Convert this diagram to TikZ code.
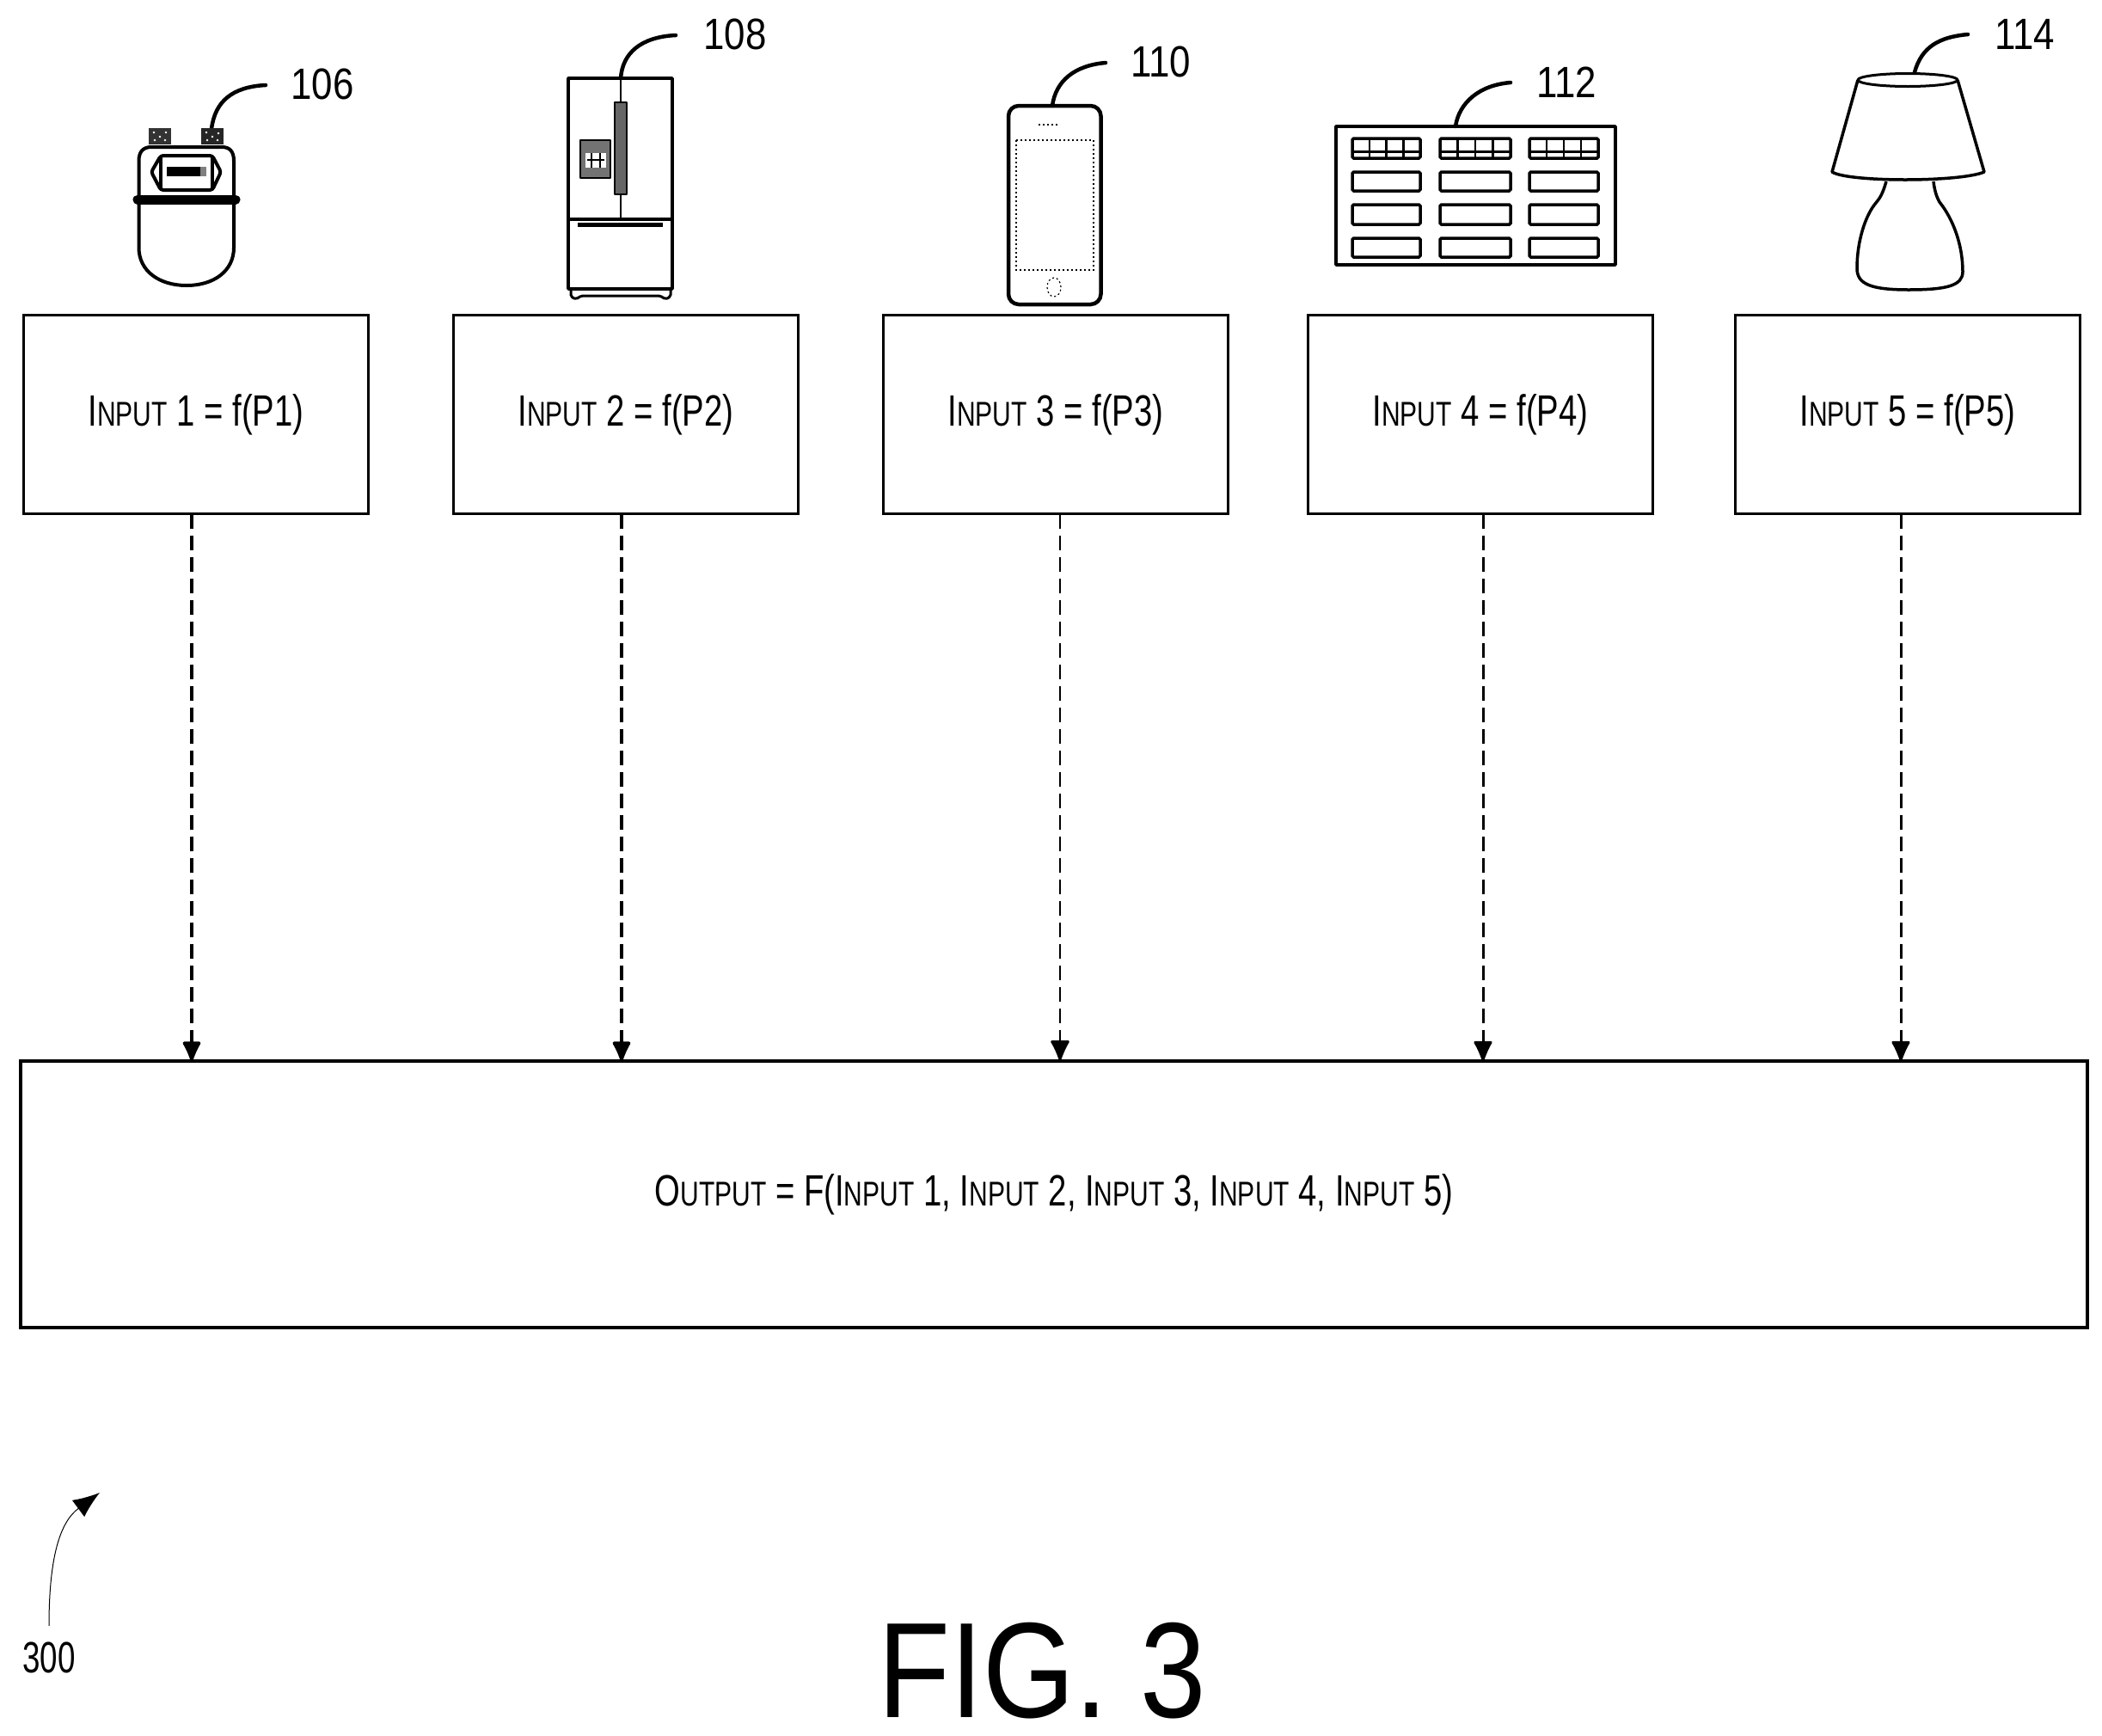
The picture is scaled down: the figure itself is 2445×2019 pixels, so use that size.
\documentclass[tikz,border=0pt]{standalone}
\usepackage{fontspec}
\usetikzlibrary{arrows.meta}
\setmainfont{Liberation Sans}
\newfontfamily\fnA[FakeStretch=0.75]{Liberation Sans}
\newfontfamily\fnB[FakeStretch=0.86]{Liberation Sans}
\newfontfamily\fnC[FakeStretch=0.72]{Liberation Sans}
\newfontfamily\fnD[FakeStretch=0.87]{Liberation Sans}
\newcommand\BigT{\fontsize{51}{56}\selectfont}
\newcommand\SmT{\fontsize{40}{44}\selectfont}
\newcommand\Inp{{\BigT I}{\SmT NPUT}}
\newcommand\Outp{{\BigT O}{\SmT UTPUT}}
\tikzset{
  inbox/.style={draw,line width=3.5pt,minimum width=401pt,minimum height=231pt,inner sep=0pt,outer sep=0pt,font=\fnA\BigT},
  outbox/.style={draw,line width=3.5pt,minimum width=2404pt,minimum height=310pt,inner sep=0pt,outer sep=0pt,font=\fnA\BigT},
  reflabel/.style={inner sep=0pt,outer sep=0pt,font=\fnB\BigT},
  leader/.style={line width=4.5pt,line cap=round},
  dasharrow/.style={line width=3.5pt,dash pattern=on 17pt off 8pt,-{Latex[length=27pt,width=24pt,round=false]}},
  iconline/.style={line width=3.5pt,line join=round},
  thinline/.style={line width=2pt,line join=round},
  keycell/.style={line width=3.5pt,rounded corners=1.5pt},
  dotline/.style={line width=1.5pt,dash pattern=on 2pt off 3pt}
}
\begin{document}
\begin{tikzpicture}[x=1pt,y=-1pt]
\useasboundingbox (0,0) rectangle (2445,2019);
% input boxes
\node[inbox] (b1) at (228,482) {\Inp{} 1 = f(P1)};
\node[inbox] (b2) at (728,482) {\Inp{} 2 = f(P2)};
\node[inbox] (b3) at (1228,482) {\Inp{} 3 = f(P3)};
\node[inbox] (b4) at (1722,482) {\Inp{} 4 = f(P4)};
\node[inbox] (b5) at (2219,482) {\Inp{} 5 = f(P5)};
\node[outbox] (out) at (1226,1389) {\Outp{} = F(\Inp{} 1, \Inp{} 2, \Inp{} 3, \Inp{} 4, \Inp{} 5)};
% connectors
\coordinate (a1) at (223,700);
\coordinate (a2) at (723,700);
\coordinate (a3) at (1233,700);
\coordinate (a4) at (1725,700);
\coordinate (a5) at (2211,700);
\draw[dasharrow] (b1.south -| a1) -- (out.north -| a1);
\draw[dasharrow] (b2.south -| a2) -- (out.north -| a2);
\draw[dasharrow,line width=2.5pt] (b3.south -| a3) -- (out.north -| a3);
\draw[dasharrow,line width=3pt] (b4.south -| a4) -- (out.north -| a4);
\draw[dasharrow,line width=3pt] (b5.south -| a5) -- (out.north -| a5);
% reference labels
\node[reflabel] (n106) at (375,98) {106};
\node[reflabel] (n108) at (855,40) {108};
\node[reflabel] (n110) at (1350,72) {110};
\node[reflabel] (n112) at (1822,96) {112};
\node[reflabel] (n114) at (2355,40) {114};
\node[inner sep=0pt,font=\fnC\BigT] (n300) at (57,1928) {300};
\node[inner sep=0pt,font=\fnD\fontsize{158}{170}\selectfont] (fig) at (1212,1943) {FIG. 3};
% leaders
\draw[leader] (309,99) .. controls (270,101) and (250,118) .. (246,150);
\draw[leader] (786,41) .. controls (745,43) and (724,62) .. (722,91);
\draw[leader] (1286,73) .. controls (1250,76) and (1228,94) .. (1224,123);
\draw[leader] (1757,96) .. controls (1720,99) and (1697,120) .. (1693,147);
\draw[leader] (2289,40) .. controls (2255,43) and (2235,55) .. (2227,84);
% 300 arrow
\draw[line width=1pt,-{Latex[length=31pt,width=24pt]}] (n300.north) ++(0,-19) .. controls (57,1810) and (70,1770) .. (116,1736);
% meter
\fill[black!80] (173,149) rectangle (199,168);
\fill[black!85] (234,149) rectangle (260,168);
\foreach \x/\y in {179/154,186/159,193/154,180/163,192/163,240/154,247/159,254/155,241/163,253/163}
  \fill[white] (\x,\y) circle (1.4pt);
\draw[iconline,line width=4pt] (161.5,233) -- (161.5,187) .. controls (161.5,176) and (167,171) .. (176,171) -- (258,171) .. controls (267,171) and (272,176) .. (272,187) -- (272,233);
\draw[iconline,line width=4pt] (161.5,233) -- (161.5,288) .. controls (161.5,315) and (185,332) .. (217,332) .. controls (249,332) and (272,315) .. (272,288) -- (272,233);
\draw[line width=11pt,line cap=round] (160,232) -- (274,232);
\draw[iconline,line width=4pt,rounded corners=3pt] (176,200) -- (187,181) -- (247,181) -- (257,200) -- (247,221) -- (187,221) -- cycle;
\draw[iconline,rounded corners=5pt] (187,181) -- (187,221);
\draw[iconline,rounded corners=5pt] (247,181) -- (247,221);
\fill (194,194) rectangle (233,205);
\fill[black!50] (233,194) rectangle (240,205);
% fridge
\draw[iconline] (661,91) rectangle (782,336);
\draw[iconline] (661,255) -- (782,255);
\draw[thinline] (722,91) -- (722,255);
\fill[black!60] (715,119) rectangle (729,226);
\draw[thinline] (715,119) rectangle (729,226);
\fill[black!55] (675,163) rectangle (710,207);
\fill[white] (681,178) rectangle (705,195);
\draw[thinline] (675,163) rectangle (710,207);
\draw[thinline] (688,178) -- (688,195) (698,178) -- (698,195) (683,186) -- (703,186);
\draw[line width=5pt] (672,261) -- (771,261);
\draw[iconline] (661,336) -- (782,336);
\draw[thinline,line width=3pt,rounded corners=2pt] (664,336) -- (664,345) -- (670,348) -- (676,344) -- (768,344) -- (774,348) -- (780,345) -- (780,336);
% phone
\draw[line width=4.5pt,rounded corners=12pt] (1173,123) rectangle (1280.5,354);
\draw[dotline] (1182,163) rectangle (1272,314);
\draw[dotline] (1208,145) -- (1230,145);
\draw[dotline,line width=1.2pt] (1226,334) ellipse (8pt and 11pt);
% keypad
\draw[iconline] (1554,147) rectangle (1879,308);
\foreach \x/\w in {1573/79,1675/82,1779/80}{
  \draw[keycell] (\x,161) rectangle ++(\w,23);
  \draw[line width=3pt] (\x,176) -- ++(\w,0);
  \foreach \k in {1,2,3} \draw[line width=2.5pt] (\x+\k*\w/4,161) -- (\x+\k*\w/4,184);
  \draw[keycell] (\x,200) rectangle ++(\w,22);
  \draw[keycell] (\x,238) rectangle ++(\w,23);
  \draw[keycell] (\x,277) rectangle ++(\w,22);
}
% lamp
\draw[thinline,line width=3pt] (2219,93) ellipse (58pt and 7.5pt);
\draw[iconline] (2161,93) -- (2131,200) .. controls (2150,212) and (2280,212) .. (2308,200) -- (2277,93);
\draw[iconline] (2194,211) .. controls (2190,225) and (2187,230) .. (2182,236) .. controls (2170,250) and (2160,280) .. (2160,312) .. controls (2160,330) and (2175,337) .. (2220,337) .. controls (2265,337) and (2283,332) .. (2283,316) .. controls (2283,285) and (2272,255) .. (2256,235) .. controls (2252,228) and (2250,220) .. (2249,211);
\end{tikzpicture}
\end{document}
